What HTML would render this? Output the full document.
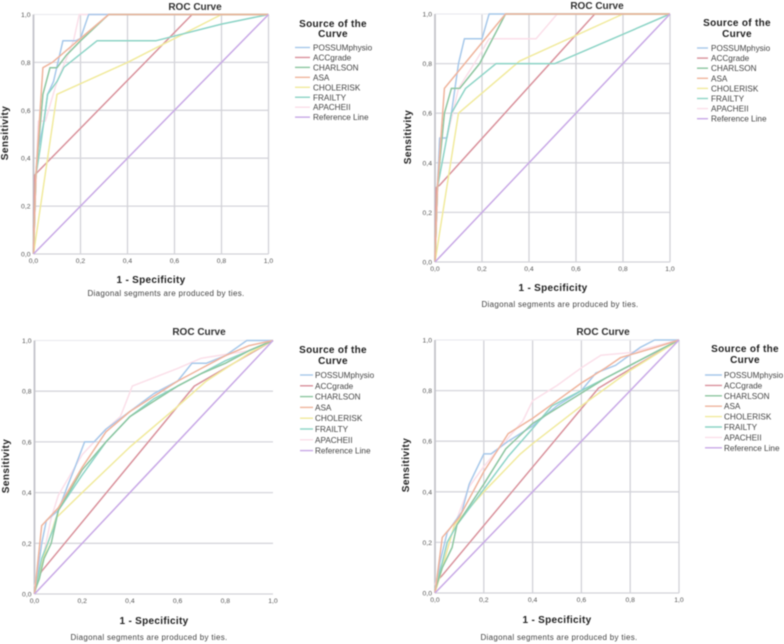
<!DOCTYPE html>
<html lang="en">
<head>
<meta charset="utf-8">
<title>ROC Curves</title>
<style>
html,body{margin:0;padding:0;background:#fff;width:784px;height:644px;overflow:hidden}
svg{display:block;position:absolute;left:0;top:0}
text{font-family:"Liberation Sans",sans-serif}
</style>
</head>
<body>
<svg id="fig" width="784" height="644" viewBox="0 0 784 644">
<defs><filter id="soft" x="-5%" y="-5%" width="110%" height="110%"><feGaussianBlur stdDeviation="0.5"/></filter></defs>
</svg>
<script>
const seriesNames = ["POSSUMphysio","ACCgrade","CHARLSON","ASA","CHOLERISK","FRAILTY","APACHEII","Reference Line"];
const tickLabels = ["0,0","0,2","0,4","0,6","0,8","1,0"];
const tickValues = [0,0.2,0.4,0.6,0.8,1];
const referenceLine = [[0,0],[1,1]];

const p1Possum = [[0,0],[0.01,0.33],[0.02,0.44],[0.045,0.555],[0.06,0.667],[0.085,0.72],[0.125,0.89],[0.18,0.89],[0.2,0.9],[0.235,1],[1,1]];
const p1Acc = [[0,0],[0.005,0.33],[0.02,0.345],[0.675,1],[1,1]];
const p1Charlson = [[0,0],[0.01,0.33],[0.04,0.667],[0.07,0.778],[0.1,0.778],[0.14,0.83],[0.2,0.89],[0.32,1],[1,1]];
const p1Asa = [[0,0],[0.01,0.33],[0.04,0.778],[0.08,0.8],[0.2,0.9],[0.32,1],[1,1]];
const p1Chole = [[0,0],[0.1,0.667],[0.4,0.8],[0.8,1],[1,1]];
const p1Frailty = [[0,0],[0.01,0.33],[0.03,0.45],[0.06,0.667],[0.1,0.72],[0.13,0.78],[0.27,0.89],[0.52,0.89],[0.8,0.96],[1,1]];
const p1Apache = [[0,0],[0.02,0.555],[0.05,0.555],[0.1,0.72],[0.17,0.89],[0.195,1],[1,1]];

const p2Possum = [[0,0],[0.01,0.3],[0.02,0.5],[0.05,0.5],[0.07,0.6],[0.1,0.8],[0.125,0.9],[0.2,0.9],[0.23,1],[1,1]];
const p2Acc = [[0,0],[0.005,0.3],[0.02,0.31],[0.68,1],[1,1]];
const p2Charlson = [[0,0],[0.01,0.3],[0.04,0.6],[0.07,0.7],[0.105,0.7],[0.19,0.8],[0.3,1],[1,1]];
const p2Asa = [[0,0],[0.01,0.3],[0.04,0.7],[0.3,1],[1,1]];
const p2Chole = [[0,0],[0.1,0.6],[0.36,0.81],[0.8,1],[1,1]];
const p2Frailty = [[0,0],[0.01,0.3],[0.03,0.4],[0.07,0.6],[0.13,0.7],[0.26,0.8],[0.51,0.8],[1,1]];
const p2Apache = [[0,0],[0.02,0.5],[0.05,0.5],[0.1,0.7],[0.18,0.82],[0.23,0.9],[0.43,0.9],[0.52,1],[1,1]];

const p3Possum = [[0,0],[0.03,0.2],[0.05,0.29],[0.1,0.33],[0.14,0.43],[0.17,0.5],[0.21,0.6],[0.25,0.6],[0.3,0.65],[0.4,0.72],[0.5,0.79],[0.6,0.84],[0.66,0.91],[0.72,0.91],[0.8,0.94],[0.89,1],[1,1]];
const p3Acc = [[0,0],[0.01,0.06],[0.03,0.09],[0.67,0.82],[1,1]];
const p3Charlson = [[0,0.01],[0.02,0.06],[0.04,0.14],[0.07,0.2],[0.1,0.33],[0.2,0.49],[0.3,0.6],[0.4,0.7],[0.5,0.76],[0.6,0.82],[0.7,0.87],[0.8,0.91],[0.9,0.96],[1,1]];
const p3Asa = [[0,0],[0.03,0.27],[0.1,0.34],[0.2,0.5],[0.3,0.64],[0.4,0.72],[0.5,0.78],[0.6,0.84],[0.7,0.89],[0.8,0.94],[0.9,0.98],[1,1]];
const p3Chole = [[0,0],[0.04,0.15],[0.09,0.3],[0.2,0.4],[0.4,0.58],[0.6,0.74],[0.72,0.84],[0.9,0.95],[1,1]];
const p3Frailty = [[0,0],[0.03,0.14],[0.08,0.26],[0.1,0.33],[0.2,0.47],[0.3,0.6],[0.4,0.7],[0.5,0.77],[0.6,0.82],[0.7,0.87],[0.8,0.92],[0.9,0.96],[1,1]];
const p3Apache = [[0,0.03],[0.03,0.12],[0.07,0.3],[0.1,0.39],[0.2,0.55],[0.3,0.65],[0.36,0.7],[0.41,0.82],[0.6,0.89],[0.7,0.93],[0.9,0.96],[1,1]];

const p4Possum = [[0,0],[0.02,0.12],[0.05,0.24],[0.11,0.32],[0.14,0.43],[0.2,0.55],[0.23,0.55],[0.3,0.6],[0.4,0.66],[0.5,0.74],[0.6,0.8],[0.66,0.87],[0.74,0.9],[0.84,0.97],[0.9,1],[1,1]];
const p4Acc = [[0,0],[0.01,0.05],[0.03,0.07],[0.67,0.81],[1,1]];
const p4Charlson = [[0,0.01],[0.03,0.1],[0.07,0.18],[0.09,0.27],[0.2,0.43],[0.29,0.57],[0.4,0.67],[0.5,0.73],[0.6,0.79],[0.7,0.85],[0.8,0.9],[0.9,0.95],[1,1]];
const p4Asa = [[0,0],[0.03,0.22],[0.1,0.3],[0.2,0.48],[0.3,0.63],[0.4,0.69],[0.5,0.76],[0.6,0.83],[0.7,0.89],[0.76,0.93],[0.9,0.97],[1,1]];
const p4Chole = [[0,0],[0.03,0.1],[0.08,0.27],[0.2,0.4],[0.35,0.55],[0.4,0.59],[0.6,0.74],[0.7,0.81],[0.8,0.88],[0.9,0.94],[1,1]];
const p4Frailty = [[0,0.02],[0.03,0.12],[0.05,0.2],[0.09,0.27],[0.2,0.41],[0.3,0.54],[0.4,0.65],[0.48,0.74],[0.6,0.8],[0.7,0.85],[0.8,0.9],[0.9,0.95],[1,1]];
const p4Apache = [[0,0.03],[0.04,0.15],[0.1,0.32],[0.14,0.42],[0.2,0.5],[0.27,0.58],[0.36,0.68],[0.4,0.76],[0.5,0.82],[0.6,0.89],[0.68,0.94],[0.8,0.95],[1,1]];

const panel1Series = [p1Apache,p1Possum,p1Acc,p1Chole,p1Frailty,p1Charlson,p1Asa,referenceLine];
const panel2Series = [p2Apache,p2Possum,p2Acc,p2Chole,p2Frailty,p2Charlson,p2Asa,referenceLine];
const panel3Series = [p3Apache,p3Possum,p3Acc,p3Chole,p3Frailty,p3Charlson,p3Asa,referenceLine];
const panel4Series = [p4Apache,p4Possum,p4Acc,p4Chole,p4Frailty,p4Charlson,p4Asa,referenceLine];
const drawOrderNames = ["APACHEII","POSSUMphysio","ACCgrade","CHOLERISK","FRAILTY","CHARLSON","ASA","Reference Line"];

const colors = {"POSSUMphysio":"#a6c8ea","ACCgrade":"#d9919b","CHARLSON":"#8cc6a0","ASA":"#efb49c","CHOLERISK":"#f1ea9c","FRAILTY":"#8cd4c6","APACHEII":"#fbdfe9","Reference Line":"#c8a8e6"};

/* layout (separate from data) */
const layouts = [
 {series:panel1Series,l:33.5,r:268.5,t:14.5,b:254,vgrid:true,title:[195,10],xt:[151,283],foot:[166,296],yt:[8,133],leg:{cx:333,t1:27,t2:37,r0:47.5,dr:9.95,x1:295,x2:310,tx:313}},
 {series:panel2Series,l:435,r:670,t:14,b:262,vgrid:true,title:[597,9],xt:[553,291],foot:[560,307],yt:[411,137],leg:{cx:737,t1:26,t2:37,r0:48,dr:10.1,x1:697,x2:708,tx:711}},
 {series:panel3Series,l:34.5,r:273,t:340.5,b:594,vgrid:false,title:[199,335],xt:[154,624],foot:[149,640],yt:[9,466],leg:{cx:333,t1:353,t2:364,r0:375,dr:10.8,x1:300,x2:313,tx:315}},
 {series:panel4Series,l:435,r:679,t:340,b:593,vgrid:true,title:[603,335],xt:[557,623],foot:[559,640],yt:[409,465],leg:{cx:745,t1:352,t2:363,r0:375,dr:10.4,x1:705,x2:722,tx:724}}
];

const svg = document.getElementById('fig');
const NS = 'http://www.w3.org/2000/svg';
function mk(parent, tag, attrs, txt){
  const el = document.createElementNS(NS, tag);
  for (const k in attrs) el.setAttribute(k, attrs[k]);
  if (txt !== undefined) el.textContent = txt;
  parent.appendChild(el);
  return el;
}
function slug(s){ return s.toLowerCase().replace(/\s+/g,'-'); }

layouts.forEach(function(p, i){
  const n = i + 1;
  const sx = function(v){ return p.l + v * (p.r - p.l); };
  const sy = function(v){ return p.b - v * (p.b - p.t); };
  const g = mk(svg, 'g', {filter:'url(#soft)'});
  
  

  tickValues.forEach(function(v, k){
    if (v > 0) {
      const gy = mk(g, 'line', {x1:sx(0),x2:sx(1),y1:sy(v),y2:sy(v),stroke:v === 1 ? '#ececf0' : '#d6d6dc','stroke-width':1.3});
      
      
      if (p.vgrid) {
        const gx = mk(g, 'line', {x1:sx(v),x2:sx(v),y1:sy(0),y2:sy(1),stroke:'#d2d2d8','stroke-width':1.3});
        
        
      }
    }
    const ly = mk(g, 'text', {x:sx(0)-3,y:sy(v)+2.5,'text-anchor':'end','font-size':6.8,fill:'#555'}, tickLabels[k]);
    
    
    const lx = mk(g, 'text', {x:sx(v),y:sy(0)+9,'text-anchor':'middle','font-size':6.8,fill:'#555'}, tickLabels[k]);
    
    
  });

  const yAxis = mk(g, 'line', {x1:sx(0),x2:sx(0),y1:sy(0),y2:sy(1),stroke:'#c4c4ca','stroke-width':1.8});
  
  
  const xAxis = mk(g, 'line', {x1:sx(0),x2:sx(1),y1:sy(0),y2:sy(0),stroke:'#d2d2d8','stroke-width':1.3});
  
  

  p.series.forEach(function(values, k){
    const name = drawOrderNames[k];
    const line = mk(g, 'polyline', {
      points: values.map(function(d){ return sx(d[0]).toFixed(1) + ',' + sy(d[1]).toFixed(1); }).join(' '),
      fill:'none', stroke:colors[name], 'stroke-width':1.5, 'stroke-linejoin':'round'
    });
    
    
  });

  const title = mk(g, 'text', {x:p.title[0],y:p.title[1],'text-anchor':'middle','font-size':10,'font-weight':'bold',fill:'#333'}, 'ROC Curve');
  
  
  const xt = mk(g, 'text', {x:p.xt[0],y:p.xt[1],'text-anchor':'middle','font-size':10,'font-weight':'bold','letter-spacing':0.3,fill:'#222'}, '1 - Specificity');
  
  
  const foot = mk(g, 'text', {x:p.foot[0],y:p.foot[1],'text-anchor':'middle','font-size':8,'letter-spacing':0.3,fill:'#444'}, 'Diagonal segments are produced by ties.');
  
  
  const yt = mk(g, 'text', {x:p.yt[0],y:p.yt[1],'text-anchor':'middle','font-size':10,'font-weight':'bold','letter-spacing':0.4,fill:'#222',transform:'rotate(-90 ' + p.yt[0] + ' ' + p.yt[1] + ')'}, 'Sensitivity');
  
  

  const L = p.leg;
  const lg = mk(g, 'g', {});
  
  
  const t1 = mk(lg, 'text', {x:L.cx,y:L.t1,'text-anchor':'middle','font-size':10,'font-weight':'bold','letter-spacing':0.3,fill:'#222'}, 'Source of the');
  
  
  const t2 = mk(lg, 'text', {x:L.cx,y:L.t2,'text-anchor':'middle','font-size':10,'font-weight':'bold','letter-spacing':0.3,fill:'#222'}, 'Curve');
  
  
  seriesNames.forEach(function(name, k){
    const y = L.r0 + k * L.dr;
    const sw = mk(lg, 'line', {x1:L.x1,x2:L.x2,y1:y,y2:y,stroke:colors[name],'stroke-width':1.4});
    
    
    const tx = mk(lg, 'text', {x:L.tx,y:y+3,'font-size':8.2,fill:'#444'}, name);
    
    
  });
});
</script>
</body>
</html>
